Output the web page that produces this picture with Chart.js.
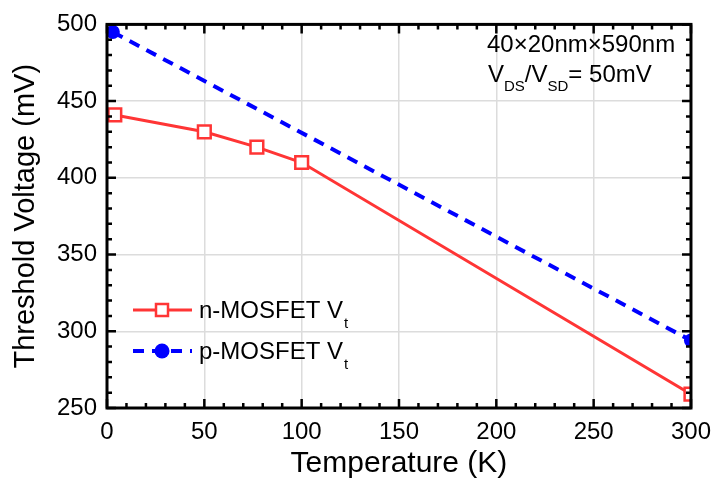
<!DOCTYPE html>
<html>
<head>
<meta charset="utf-8">
<script src="https://cdn.jsdelivr.net/npm/chart.js@4.4.1/dist/chart.umd.min.js"></script>
<style>
  html, body { margin: 0; padding: 0; background: #fff; }
  #wrap { width: 721px; height: 480px; }
</style>
</head>
<body>
<div id="wrap"><canvas id="vtChart" width="721" height="480"></canvas></div>
<script>
// Threshold voltage vs temperature
const nTemp = [4, 50, 77, 100, 300];
const nVt = [441, 430, 420, 410, 259];
const pTemp = [3, 300];
const pVt = [495, 294];
const xRange = [0, 300];
const yRange = [250, 500];
const majorStep = 50;
const minorStep = 10;

const RED = '#ff3535';
const BLUE = '#0000ff';
const FONT = '"Liberation Sans", Arial, sans-serif';

function pts(xs, ys) {
  return xs.map((x, i) => ({ x: x, y: ys[i] }));
}

// inward major/minor ticks on all four sides + heavy frame
const frameTicks = {
  id: 'frameTicks',
  afterDatasetsDraw(chart) {
    const c = chart.ctx;
    const a = chart.chartArea;
    const xs = chart.scales.x, ys = chart.scales.y;
    c.save();
    c.strokeStyle = '#000';
    c.lineWidth = 2.5;
    c.beginPath();
    for (let v = xRange[0]; v <= xRange[1]; v += minorStep) {
      const px = xs.getPixelForValue(v);
      const len = v % majorStep === 0 ? 9 : 5;
      c.moveTo(px, a.bottom); c.lineTo(px, a.bottom - len);
      c.moveTo(px, a.top); c.lineTo(px, a.top + len);
    }
    for (let v = yRange[0]; v <= yRange[1]; v += minorStep) {
      const py = ys.getPixelForValue(v);
      const len = v % majorStep === 0 ? 9 : 5;
      c.moveTo(a.left, py); c.lineTo(a.left + len, py);
      c.moveTo(a.right, py); c.lineTo(a.right - len, py);
    }
    c.stroke();
    c.lineWidth = 3;
    c.strokeRect(a.left, a.top, a.right - a.left, a.bottom - a.top);
    c.restore();
  },
  afterDraw(chart) {
    const c = chart.ctx;
    c.save();
    c.fillStyle = '#000';
    c.textBaseline = 'alphabetic';

    // legend
    const items = [
      { ds: chart.data.datasets[0], y: 310, text: 'n-MOSFET V' },
      { ds: chart.data.datasets[1], y: 351, text: 'p-MOSFET V' }
    ];
    items.forEach(it => {
      c.save();
      c.strokeStyle = it.ds.borderColor;
      c.lineWidth = it.ds.borderWidth;
      c.setLineDash(it.ds.borderDash || []);
      c.beginPath();
      c.moveTo(133, it.y); c.lineTo(192, it.y);
      c.stroke();
      c.setLineDash([]);
      if (it.ds.pointStyle === 'rect') {
        c.fillStyle = '#fff';
        c.lineWidth = 2.5;
        c.fillRect(156, it.y - 6, 12, 12);
        c.strokeRect(156, it.y - 6, 12, 12);
      } else {
        c.fillStyle = it.ds.pointBackgroundColor;
        c.beginPath();
        c.arc(162, it.y, 7.5, 0, Math.PI * 2);
        c.fill();
      }
      c.restore();
      c.font = '24px ' + FONT;
      c.fillText(it.text, 199, it.y + 8);
      const w = c.measureText(it.text).width;
      c.font = '15px ' + FONT;
      c.fillText('t', 200 + w, it.y + 18);
    });

    // annotation
    c.font = '24px ' + FONT;
    c.fillText('40\u00d720nm\u00d7590nm', 487, 52);
    let x = 488;
    c.fillText('V', x, 82); x += c.measureText('V').width;
    c.font = '15px ' + FONT;
    c.fillText('DS', x, 91); x += c.measureText('DS').width;
    c.font = '24px ' + FONT;
    c.fillText('/V', x, 82); x += c.measureText('/V').width;
    c.font = '15px ' + FONT;
    c.fillText('SD', x, 91); x += c.measureText('SD').width;
    c.font = '24px ' + FONT;
    c.fillText('= 50mV', x, 82);
    c.restore();
  }
};

const ctx = document.getElementById('vtChart').getContext('2d');
const vtChart = new Chart(ctx, {
  type: 'line',
  data: {
    datasets: [
      {
        label: 'n-MOSFET Vt',
        data: pts(nTemp, nVt),
        borderColor: RED,
        borderWidth: 3,
        pointStyle: 'rect',
        pointRadius: 9,
        pointBorderWidth: 2.5,
        pointBorderColor: RED,
        pointBackgroundColor: '#fff',
        tension: 0,
        clip: 0
      },
      {
        label: 'p-MOSFET Vt',
        data: pts(pTemp, pVt),
        borderColor: BLUE,
        borderWidth: 4,
        borderDash: [11, 8],
        pointStyle: 'circle',
        pointRadius: 7,
        pointBorderWidth: 0,
        pointBackgroundColor: BLUE,
        tension: 0,
        clip: 0
      }
    ]
  },
  options: {
    responsive: false,
    animation: false,
    layout: { padding: { top: 18, right: 26, left: 0, bottom: 0 } },
    plugins: {
      legend: { display: false },
      title: { display: false },
      tooltip: { enabled: false }
    },
    scales: {
      x: {
        type: 'linear',
        min: xRange[0],
        max: xRange[1],
        afterFit(scale) { scale.height = 72; },
        grid: { color: '#dcdcdc', lineWidth: 1.5, drawTicks: false },
        border: { display: false },
        ticks: { stepSize: majorStep, color: '#000', padding: 10, font: { family: FONT, size: 24 } },
        title: {
          display: true,
          text: 'Temperature (K)',
          color: '#000',
          font: { family: FONT, size: 30, lineHeight: 1.1 },
          padding: { top: 0, bottom: 0 }
        }
      },
      y: {
        type: 'linear',
        min: yRange[0],
        max: yRange[1],
        afterFit(scale) { scale.width = 107; },
        grid: { color: '#dcdcdc', lineWidth: 1.5, drawTicks: false },
        border: { display: false },
        ticks: { stepSize: majorStep, color: '#000', padding: 10, font: { family: FONT, size: 24 } },
        title: {
          display: true,
          text: 'Threshold Voltage (mV)',
          color: '#000',
          font: { family: FONT, size: 29 },
          padding: { top: 9, bottom: 9 }
        }
      }
    }
  },
  plugins: [frameTicks]
});
</script>
</body>
</html>
